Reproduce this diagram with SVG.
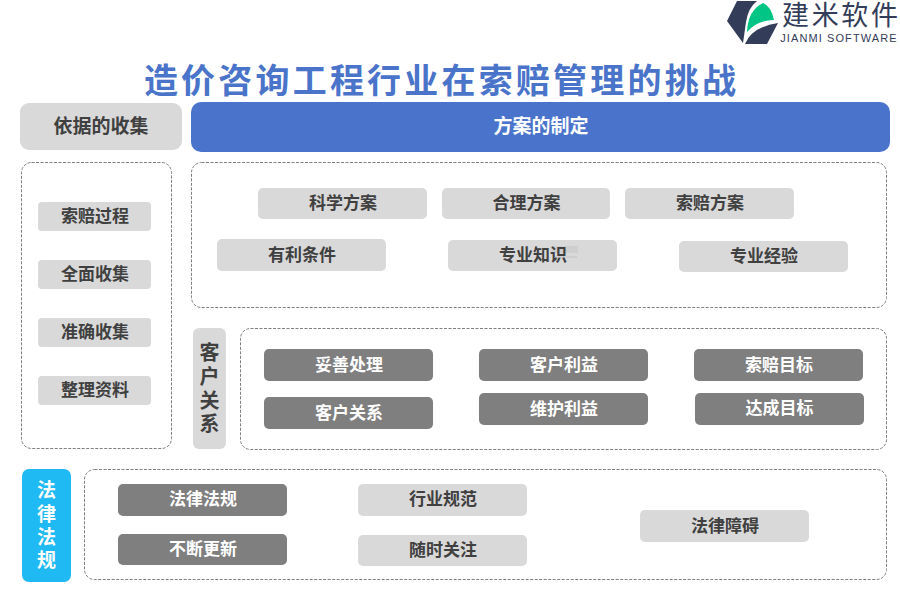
<svg xmlns="http://www.w3.org/2000/svg" width="900" height="600" viewBox="0 0 900 600">
<style>
text{font-family:"Liberation Sans","Noto Sans CJK SC",sans-serif;font-weight:700;text-anchor:middle;font-size:17px}
.l{fill:#d9d9d9}.d{fill:#7f7f7f}
.lt{fill:#404040}.dt{fill:#fff}
.h{font-size:19px}
.v{font-size:20px}
.f{fill:none;stroke:#7f7f7f;stroke-width:1;stroke-dasharray:3 1.500}
</style>
<rect width="900" height="600" fill="#fff"/>
<g id="logo">
<path d="M737 1H757Q748 8 746 22L743 43L727 21Z" fill="#333c58"/>
<path d="M747 32Q748 10 763 3Q771 6 774 20Q757 20 747 32Z" fill="#00c585"/>
<path d="M745 44Q752 27 778 23L767 44Z" fill="#333c58"/>
<text x="840" y="25" style="font-size:27px;font-weight:400;fill:#333c58" textLength="116" lengthAdjust="spacing">建米软件</text>
<text x="839" y="42" style="font-size:11px;font-weight:400;fill:#333c58;letter-spacing:1.100px">JIANMI SOFTWARE</text>
</g>
<g id="title"><text x="441.500" y="93" style="font-size:34px;fill:#4a74c9;letter-spacing:3.200px">造价咨询工程行业在索赔管理的挑战</text></g>
<g id="frames">
<rect class="f" x="21.500" y="162.500" width="150" height="286" rx="10"/>
<rect class="f" x="191.500" y="162.500" width="695" height="145" rx="10"/>
<rect class="f" x="240.500" y="328.500" width="646" height="121" rx="10"/>
<rect class="f" x="84.500" y="469.500" width="802" height="110" rx="10"/>
</g>
<g id="n-yiju"><rect class="l" x="20" y="103" width="162" height="47" rx="9"/><text class="lt h" x="101" y="133">依据的收集</text></g>
<g id="n-fangan"><rect x="191" y="102" width="699" height="50" rx="10" fill="#4a74cb"/><text class="dt h" x="541" y="133">方案的制定</text></g>
<g id="n-a1"><rect class="l" x="38" y="202" width="113" height="29" rx="4"/><text class="lt" x="95" y="222">索赔过程</text></g>
<g id="n-a2"><rect class="l" x="38" y="260" width="113" height="29" rx="4"/><text class="lt" x="95" y="280">全面收集</text></g>
<g id="n-a3"><rect class="l" x="38" y="318" width="113" height="29" rx="4"/><text class="lt" x="95" y="338">准确收集</text></g>
<g id="n-a4"><rect class="l" x="38" y="376" width="113" height="29" rx="4"/><text class="lt" x="95" y="396">整理资料</text></g>
<g id="n-b1"><rect class="l" x="258" y="188" width="169" height="31" rx="5"/><text class="lt" x="343" y="209">科学方案</text></g>
<g id="n-b2"><rect class="l" x="442" y="188" width="168" height="31" rx="5"/><text class="lt" x="526.500" y="209">合理方案</text></g>
<g id="n-b3"><rect class="l" x="625" y="188" width="169" height="31" rx="5"/><text class="lt" x="710" y="209">索赔方案</text></g>
<g id="n-b4"><rect class="l" x="217" y="239" width="169" height="32" rx="5"/><text class="lt" x="302" y="261">有利条件</text></g>
<g id="n-b5"><rect class="l" x="448" y="240" width="169" height="31" rx="5"/><rect x="551" y="246" width="27" height="7" fill="#c4c4c4" opacity=".5"/><rect x="556" y="256" width="21" height="2" fill="#c4c4c4" opacity=".5"/><text class="lt" x="533" y="261">专业知识</text></g>
<g id="n-b6"><rect class="l" x="679" y="241" width="169" height="31" rx="5"/><text class="lt" x="764" y="262">专业经验</text></g>
<g id="n-kehu"><rect class="l" x="193" y="328" width="33" height="121" rx="6"/><text class="lt v" x="209.500" y="360">客</text><text class="lt v" x="209.500" y="384">户</text><text class="lt v" x="209.500" y="408">关</text><text class="lt v" x="209.500" y="431">系</text></g>
<g id="n-c1"><rect class="d" x="264" y="349" width="169" height="32" rx="5"/><text class="dt" x="349" y="371">妥善处理</text></g>
<g id="n-c2"><rect class="d" x="479" y="349" width="169" height="32" rx="5"/><text class="dt" x="564" y="371">客户利益</text></g>
<g id="n-c3"><rect class="d" x="694" y="349" width="169" height="32" rx="5"/><text class="dt" x="779" y="371">索赔目标</text></g>
<g id="n-c4"><rect class="d" x="264" y="397" width="169" height="32" rx="5"/><text class="dt" x="349" y="419">客户关系</text></g>
<g id="n-c5"><rect class="d" x="479" y="393" width="169" height="32" rx="5"/><text class="dt" x="564" y="415">维护利益</text></g>
<g id="n-c6"><rect class="d" x="695" y="393" width="169" height="32" rx="5"/><text class="dt" x="779.500" y="414">达成目标</text></g>
<g id="n-falv"><rect x="22" y="469" width="49" height="113" rx="7" fill="#1fb9f4"/><text class="dt h" x="46.500" y="497">法</text><text class="dt h" x="46.500" y="521">律</text><text class="dt h" x="46.500" y="544">法</text><text class="dt h" x="46.500" y="567">规</text></g>
<g id="n-d1"><rect class="d" x="118" y="484" width="169" height="32" rx="5"/><text class="dt" x="203" y="505">法律法规</text></g>
<g id="n-d2"><rect class="d" x="118" y="534" width="169" height="31" rx="5"/><text class="dt" x="203" y="555">不断更新</text></g>
<g id="n-d3"><rect class="l" x="358" y="484" width="169" height="32" rx="5"/><text class="lt" x="443" y="505">行业规范</text></g>
<g id="n-d4"><rect class="l" x="358" y="535" width="169" height="31" rx="5"/><text class="lt" x="443" y="556">随时关注</text></g>
<g id="n-d5"><rect class="l" x="640" y="510" width="169" height="32" rx="5"/><text class="lt" x="725" y="532">法律障碍</text></g>
<g id="connectors"/>
</svg>
